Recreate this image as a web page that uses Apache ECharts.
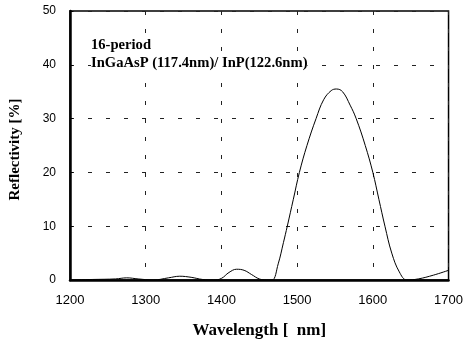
<!DOCTYPE html>
<html>
<head>
<meta charset="utf-8">
<script src="https://cdn.jsdelivr.net/npm/echarts@6/dist/echarts.min.js"></script>
<style>
  html, body { margin: 0; padding: 0; background: #fff; }
  #chart { width: 466px; height: 344px; }
</style>
</head>
<body>
<div id="chart"></div>
<script>
// wavelength (nm) and reflectivity (%)
const wavelength = [1200, 1230, 1260, 1275, 1290, 1310, 1330, 1345, 1360, 1375, 1390, 1400, 1410, 1420, 1430, 1440, 1450, 1460, 1467, 1475, 1482, 1487, 1495, 1503, 1513, 1525, 1535, 1545, 1552, 1560, 1570, 1578, 1590, 1600, 1608, 1616, 1625, 1635, 1645, 1660, 1680, 1700];
const reflectivity = [0, 0.1, 0.2, 0.4, 0.2, 0, 0.4, 0.7, 0.5, 0.1, 0, 0.3, 1.4, 2.0, 1.8, 1.0, 0.2, 0, 0, 3, 7, 10, 15, 20, 25, 30, 33.5, 35.2, 35.5, 35, 32.5, 30, 25, 20, 15, 10, 5, 1.5, 0, 0.2, 0.9, 1.8];
const xTicks = [1200, 1300, 1400, 1500, 1600, 1700];
const yTicks = [0, 10, 20, 30, 40, 50];
const notes = ['16-period', 'InGaAsP (117.4nm)/ InP(122.6nm)'];

const chart = echarts.init(document.getElementById('chart'));
const dashGrid = { show: true, lineStyle: { color: '#222', width: 1, type: [4, 14] } };

chart.setOption({
  animation: false,
  grid: { left: 68, right: 13, top: 11, bottom: 62, show: true, borderColor: '#000', borderWidth: 1.5 },
  xAxis: {
    type: 'value',
    min: xTicks[0],
    max: xTicks[xTicks.length - 1],
    interval: 100,
    name: 'Wavelength [  nm]',
    nameLocation: 'middle',
    nameGap: 42,
    nameTextStyle: { fontFamily: 'Liberation Serif', fontWeight: 'bold', fontSize: 17, color: '#000' },
    axisLine: { lineStyle: { color: '#000', width: 2.5 } },
    axisTick: { show: false },
    axisLabel: { fontFamily: 'Liberation Sans', fontSize: 13, color: '#000', margin: 14, formatter: v => String(v) },
    splitLine: dashGrid
  },
  yAxis: {
    type: 'value',
    min: yTicks[0],
    max: yTicks[yTicks.length - 1],
    interval: 10,
    name: 'Reflectivity [%]',
    nameLocation: 'middle',
    nameGap: 47,
    nameTextStyle: { fontFamily: 'Liberation Serif', fontWeight: 'bold', fontSize: 15, color: '#000', padding: [0, 8, 0, 0] },
    axisLine: { show: true, lineStyle: { color: '#000', width: 2.5 } },
    axisTick: { show: true, inside: true, length: 3, lineStyle: { color: '#000' } },
    axisLabel: { fontFamily: 'Liberation Sans', fontSize: 12, color: '#000', margin: 14 },
    splitLine: dashGrid
  },
  graphic: notes.map((t, i) => ({
    type: 'text',
    left: 91,
    top: 38 + i * 18,
    z: 10,
    style: { text: t, font: 'bold 14.6px "Liberation Serif"', fill: '#000', backgroundColor: '#fff' }
  })),
  series: [{
    type: 'line',
    data: wavelength.map((w, i) => [w, reflectivity[i]]),
    smooth: 0.4,
    symbol: 'none',
    lineStyle: { color: '#000', width: 1 }
  }]
});
</script>
</body>
</html>
